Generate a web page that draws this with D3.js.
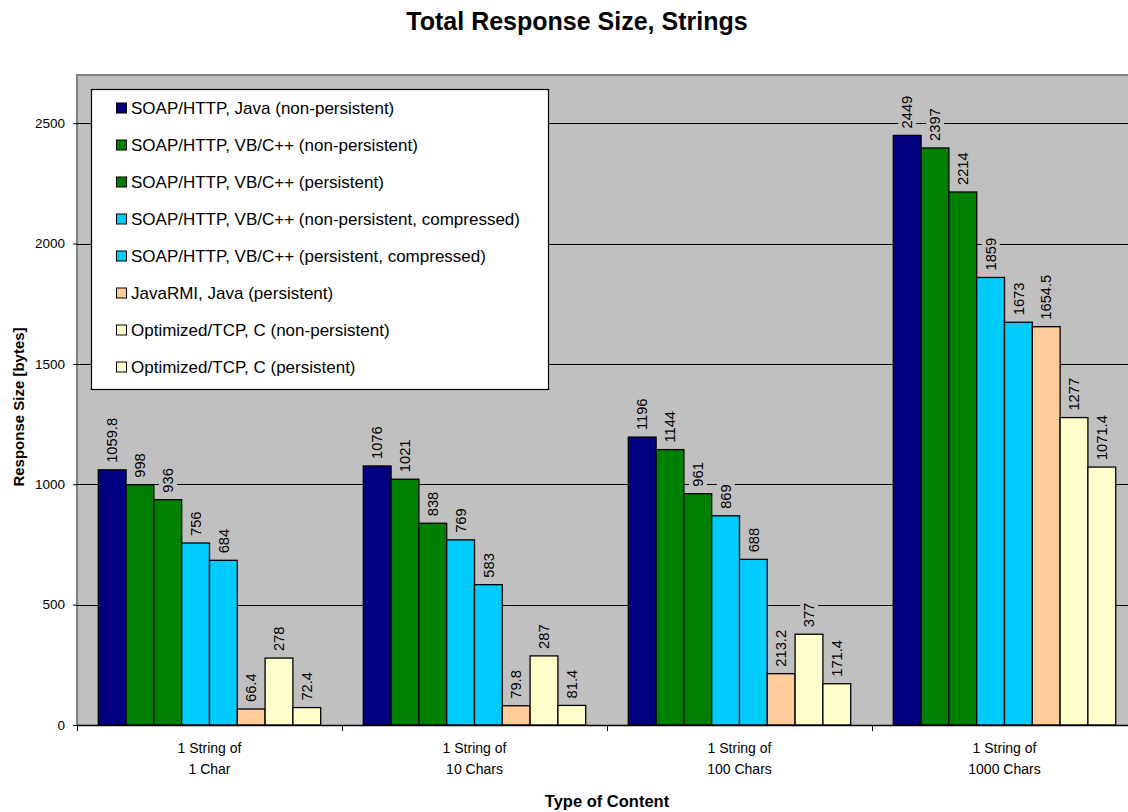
<!DOCTYPE html>
<html><head><meta charset="utf-8">
<script src="https://cdn.jsdelivr.net/npm/d3@7"></script>
<style>body{margin:0;background:#fff;} svg{display:block;font-family:"Liberation Sans",Arial,sans-serif;}</style>
</head><body>
<svg id="chart" width="1128" height="812"></svg>
<script>
const categories = [["1 String of","1 Char"],["1 String of","10 Chars"],["1 String of","100 Chars"],["1 String of","1000 Chars"]];
const seriesNames = [
  "SOAP/HTTP, Java (non-persistent)",
  "SOAP/HTTP, VB/C++ (non-persistent)",
  "SOAP/HTTP, VB/C++ (persistent)",
  "SOAP/HTTP, VB/C++ (non-persistent, compressed)",
  "SOAP/HTTP, VB/C++ (persistent, compressed)",
  "JavaRMI, Java (persistent)",
  "Optimized/TCP, C (non-persistent)",
  "Optimized/TCP, C (persistent)"
];
const seriesColors = ["#000080","#008000","#008000","#00CCFF","#00CCFF","#FFCC99","#FFFFCC","#FFFFCC"];
const soapJavaNP = [1059.8, 1076, 1196, 2449];
const soapVbNP = [998, 1021, 1144, 2397];
const soapVbP = [936, 838, 961, 2214];
const soapVbNPC = [756, 769, 869, 1859];
const soapVbPC = [684, 583, 688, 1673];
const javaRmiP = [66.4, 79.8, 213.2, 1654.5];
const optTcpNP = [278, 287, 377, 1277];
const optTcpP = [72.4, 81.4, 171.4, 1071.4];
const seriesValues = [soapJavaNP, soapVbNP, soapVbP, soapVbNPC, soapVbPC, javaRmiP, optTcpNP, optTcpP];
const yTicks = [0, 500, 1000, 1500, 2000, 2500];

const svg = d3.select("#chart");
const L = 77, R = 1137, T = 75, B = 725;

const x0 = d3.scaleBand().domain(d3.range(categories.length)).range([L, R]).padding(0);
const x1 = d3.scaleBand().domain(d3.range(seriesNames.length)).range([21.3, x0.bandwidth() - 21.3]).padding(0);
const y = d3.scaleLinear().domain([0, 2700]).range([B, T]);

// Plot background
svg.append("rect").attr("x", L).attr("y", T).attr("width", R - L).attr("height", B - T).attr("fill", "#C0C0C0");
svg.append("path").attr("d", `M${L},${B}V${T}H${R}`).attr("fill","none").attr("stroke","#808080").attr("stroke-width",2);

// gridlines
svg.append("g").selectAll("line").data(yTicks.filter(d => d > 0)).join("line")
  .attr("x1", L).attr("x2", R).attr("y1", d => Math.round(y(d)) + 0.5).attr("y2", d => Math.round(y(d)) + 0.5)
  .attr("stroke", "#000").attr("stroke-width", 1);

// Y axis
const yAxis = d3.axisLeft(y).tickValues(yTicks).tickSize(4).tickPadding(8).tickFormat(d3.format("d"));
const gy = svg.append("g").attr("transform", `translate(${L},0)`).call(yAxis);
gy.select(".domain").remove();
gy.selectAll(".tick line").attr("stroke", "#000");
gy.selectAll(".tick text").attr("font-size", 13.5).attr("fill", "#000").attr("font-family", "Liberation Sans, Arial, sans-serif");

// bars
const groups = svg.append("g").selectAll("g").data(categories).join("g")
  .attr("transform", (d, i) => `translate(${x0(i)},0)`);
groups.each(function(cat, ci) {
  const g = d3.select(this);
  seriesValues.forEach((vals, si) => {
    g.append("rect")
      .attr("x", x1(si)).attr("width", x1.bandwidth())
      .attr("y", y(vals[ci])).attr("height", B - y(vals[ci]))
      .attr("fill", seriesColors[si]).attr("stroke", "#000").attr("stroke-width", 1.3);
  });
});

// X axis
const gx = svg.append("g").attr("transform", `translate(0,${B})`);
gx.append("line").attr("x1", L).attr("x2", R).attr("y1", 0.5).attr("y2", 0.5).attr("stroke", "#000").attr("stroke-width", 1.5);
gx.selectAll(".tk").data(d3.range(categories.length + 1)).join("line").attr("class","tk")
  .attr("x1", i => L + i * x0.bandwidth() + 0.5).attr("x2", i => L + i * x0.bandwidth() + 0.5)
  .attr("y1", 0).attr("y2", 6).attr("stroke", "#000");
gx.selectAll(".cl").data(categories).join("text").attr("class","cl")
  .attr("x", (d, i) => x0(i) + x0.bandwidth() / 2).attr("y", 28)
  .attr("text-anchor", "middle").attr("font-size", 14).attr("fill", "#000")
  .each(function(d) {
    d3.select(this).selectAll("tspan").data(d).join("tspan")
      .attr("x", d3.select(this).attr("x")).attr("dy", (t, j) => j === 0 ? 0 : 21).text(t => t);
  });

// value labels
const lblFont = 14.7;
const labelsG = svg.append("g");
categories.forEach((cat, ci) => {
  seriesValues.forEach((vals, si) => {
    const cx = x0(ci) + x1(si) + x1.bandwidth() / 2;
    const yTop = y(vals[ci]) - 7;
    const gl = labelsG.append("g").attr("transform", `translate(${cx},${yTop}) rotate(-90)`);
    const t = gl.append("text").attr("x", 0).attr("y", 0).attr("dy", "0.35em")
      .attr("font-size", lblFont).attr("fill", "#000").text(String(vals[ci]));
    const bb = t.node().getBBox();
    gl.insert("rect", "text").attr("x", bb.x - 2).attr("y", bb.y - 1).attr("width", bb.width + 4).attr("height", bb.height + 2).attr("fill", "#C0C0C0");
  });
});

// Legend
const lg = svg.append("g");
lg.append("rect").attr("x", 91.5).attr("y", 89.5).attr("width", 457).attr("height", 300)
  .attr("fill", "#fff").attr("stroke", "#000").attr("stroke-width", 1.2);
seriesNames.forEach((name, i) => {
  const cy = 108 + i * 37;
  lg.append("rect").attr("x", 116.5).attr("y", cy - 5).attr("width", 10).attr("height", 10)
    .attr("fill", seriesColors[i]).attr("stroke", "#000").attr("stroke-width", 1);
  lg.append("text").attr("x", 131).attr("y", cy).attr("dy", "0.35em")
    .attr("font-size", 17).attr("fill", "#000").text(name);
});

// Titles
svg.append("text").attr("x", 577).attr("y", 30).attr("text-anchor", "middle")
  .attr("font-size", 25).attr("font-weight", "bold").text("Total Response Size, Strings");
svg.append("text").attr("transform", `translate(23.5,${(T + B) / 2 + 7}) rotate(-90)`).attr("text-anchor", "middle")
  .attr("font-size", 15).attr("font-weight", "bold").text("Response Size [bytes]");
svg.append("text").attr("x", 607).attr("y", 807).attr("text-anchor", "middle")
  .attr("font-size", 16.5).attr("font-weight", "bold").text("Type of Content");
</script>
</body></html>
